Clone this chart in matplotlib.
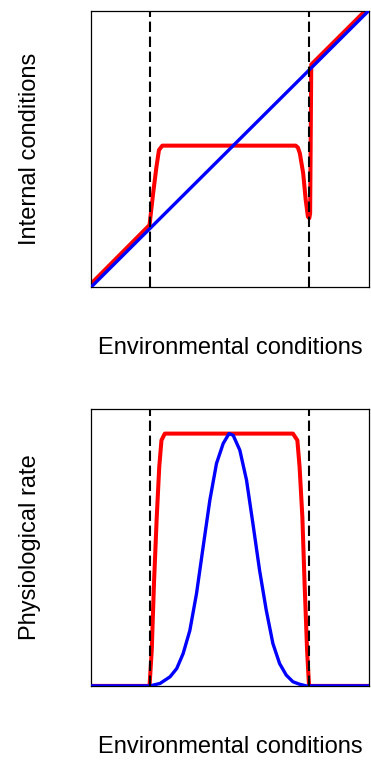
import matplotlib
matplotlib.use('Agg')
import matplotlib.pyplot as plt

plt.rcParams['font.family'] = ['Liberation Sans', 'DejaVu Sans']

# tolerance limits (environmental conditions)
limits = [0.211, 0.785]

# top panel: internal vs environmental conditions
conformer_x = [0.0, 1.0]
conformer_y = [0.0, 1.0]
regulator_x = [0.0, 0.211, 0.224, 0.236, 0.245, 0.257, 0.737, 0.745, 0.752, 0.764,
               0.773, 0.781, 0.786, 0.789, 0.791, 0.793, 1.0]
regulator_y = [0.012, 0.225, 0.34, 0.436, 0.496, 0.512, 0.512, 0.505, 0.484, 0.412,
               0.316, 0.255, 0.25, 0.268, 0.533, 0.805, 1.012]

# bottom panel: physiological rate
rate_env = [0.0, 0.211, 0.219, 0.227, 0.237, 0.246, 0.254, 0.266,
            0.727, 0.743, 0.751, 0.761, 0.769, 0.778, 0.785, 1.0]
rate_regulator = [0.0, 0.0, 0.129, 0.37, 0.611, 0.792, 0.888, 0.912,
                  0.912, 0.888, 0.792, 0.611, 0.37, 0.129, 0.0, 0.0]
bell_env = [0.0, 0.213, 0.249, 0.285, 0.309, 0.332, 0.356, 0.38, 0.404, 0.428, 0.452,
            0.476, 0.497, 0.512, 0.536, 0.56, 0.583, 0.607, 0.631, 0.655, 0.679,
            0.703, 0.727, 0.751, 0.775, 1.0]
rate_conformer = [0.0, 0.0, 0.009, 0.033, 0.063, 0.117, 0.2, 0.333, 0.503, 0.671, 0.804,
                  0.876, 0.912, 0.906, 0.852, 0.744, 0.587, 0.418, 0.274, 0.153, 0.081,
                  0.039, 0.015, 0.006, 0.0, 0.0]

fig = plt.figure(figsize=(3.71, 7.60), dpi=100)
ax1 = fig.add_axes([0.245, 0.622, 0.749, 0.364])
ax2 = fig.add_axes([0.245, 0.0975, 0.749, 0.364])

ax1.plot(regulator_x, regulator_y, color='#ff0000', lw=2.9, zorder=2)
ax1.plot(conformer_x, conformer_y, color='#0000ff', lw=2.4, zorder=3)

ax2.plot(rate_env, rate_regulator, color='#ff0000', lw=2.9, zorder=2)
ax2.plot(bell_env, rate_conformer, color='#0000ff', lw=2.4, zorder=3)

for ax in (ax1, ax2):
    for xv in limits:
        ax.axvline(xv, color='black', lw=1.5, ls=(0, (5, 2.2)), zorder=4)
    ax.set_xlim(0, 1)
    ax.set_ylim(0, 1)
    ax.set_xticks([])
    ax.set_yticks([])
    for s in ax.spines.values():
        s.set_linewidth(0.9)
    ax.set_xlabel('Environmental conditions', fontsize=17, labelpad=36)

ax1.set_ylabel('Internal conditions', fontsize=17, labelpad=36)
ax2.set_ylabel('Physiological rate', fontsize=17, labelpad=36)

fig.savefig('out.png', dpi=100)
